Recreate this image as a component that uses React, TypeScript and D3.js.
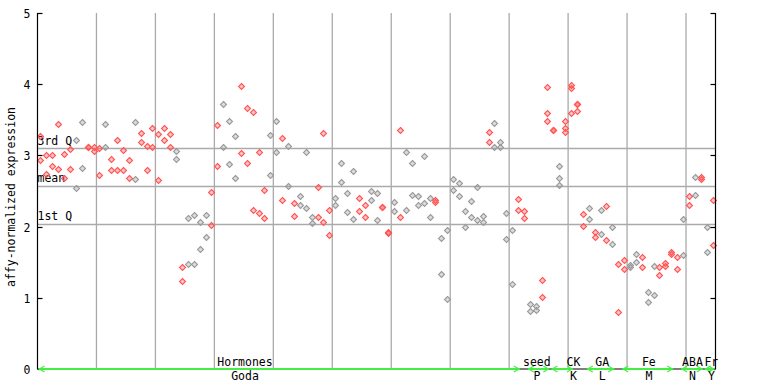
import React, { useEffect, useRef } from "react";
import * as d3 from "d3";

// expression per sample column (replicates)
const samples: number[][] = [
  [3.27, 2.94], [3.0, 2.74], [3.0, 2.85], [3.44, 2.81], [3.02, 2.68],
  [3.09, 2.81], [3.21, 2.54], [3.47, 2.83], [3.12, 3.12], [3.12, 3.06],
  [3.1, 2.72], [3.44, 3.12], [2.95, 2.79], [3.21, 2.79], [3.07, 2.79],
  [2.93, 2.68], [3.47, 2.67], [3.31, 3.19], [3.13, 2.79], [3.38, 3.12],
  [3.3, 2.65], [3.38, 3.21], [3.3, 3.12], [3.06, 2.95], [1.43, 1.23],
  [2.12, 1.47], [2.16, 1.47], [2.06, 1.68], [2.16, 1.86], [2.48, 2.02],
  [3.42, 2.85], [3.72, 3.12], [3.49, 2.88], [3.27, 2.68], [3.97, 3.03],
  [3.66, 2.9], [3.61, 2.24], [3.05, 2.19], [2.51, 2.12], [3.28, 2.72],
  [3.48, 3.05], [3.24, 2.37], [3.13, 2.57], [2.33, 2.15], [2.43, 2.3],
  [3.05, 2.26], [2.13, 2.05], [2.55, 2.13], [3.31, 2.06], [2.24, 1.88],
  [2.4, 2.3], [2.9, 2.62], [2.47, 2.2], [2.78, 2.1], [2.4, 2.22],
  [2.3, 2.13], [2.5, 2.37], [2.47, 2.09], [2.28, 2.28], [1.93, 1.91],
  [2.34, 2.22], [3.35, 2.13], [3.05, 2.24], [2.9, 2.45], [2.43, 2.31],
  [2.99, 2.33], [2.4, 2.13], [2.37, 2.34], [1.84, 1.33], [1.95, 0.99],
  [2.67, 2.51], [2.61, 2.43], [2.22, 1.99], [2.36, 2.13], [2.55, 2.09],
  [2.15, 2.06], [3.33, 3.19], [3.45, 3.12], [3.19, 3.12], [2.19, 1.82],
  [1.95, 1.2], [2.39, 2.23], [2.22, 2.12], [0.91, 0.81], [0.88, 0.83],
  [1.25, 1.01], [3.96, 3.59, 3.48], [3.35, 3.35], [2.85, 2.68, 2.58], [3.48, 3.38, 3.33],
  [3.99, 3.95, 3.59], [3.72, 3.72, 3.62], [2.17, 2.01], [2.26, 2.1], [1.92, 1.86],
  [2.23, 1.89], [2.29, 1.81], [1.99, 1.75], [1.47, 0.8], [1.53, 1.41],
  [1.46, 1.43], [1.61, 1.5], [1.58, 1.43], [1.08, 0.94], [1.44, 1.04],
  [1.43, 1.32], [1.49, 1.44], [1.65, 1.61], [1.58, 1.4], [2.1, 1.6],
  [2.43, 2.31], [2.69, 2.45], [2.69, 2.67], [1.99, 1.64], [2.37, 1.74],
];

// columns drawn in grey
const greyCols = [7, 8, 12, 17, 24, 26, 27, 28, 29, 32, 33, 34, 40, 41, 43, 45, 46, 47,
  51, 52, 53, 54, 57, 58, 61, 63, 64, 65, 66, 67, 69, 70, 71, 72, 73, 74, 75, 76,
  78, 79, 80, 81, 84, 85, 89, 94, 96, 98, 101, 102, 104, 105, 110, 112, 114];

const groupTop = ["Hormones", "seed", "CK", "GA", "Fe", "ABA", "Fr"];
const groupBottom = ["Goda", "P", "K", "L", "M", "N", "Y"];
const groupFrom = [1, 84, 88, 94, 100, 110, 114];
const groupTo = [82, 87, 91, 98, 108, 113, 115];
const groupLabelAt = [35.7, 85.2, 91.4, 96.3, 104.2, 111.6, 114.8];

const refLabels = ["3rd Q", "mean", "1st Q"];
const refValues = [3.1, 2.575, 2.04];
const yTicks = [0, 1, 2, 3, 4, 5];

const W = 768;
const H = 384;
const FONT = "'DejaVu Sans Mono', monospace";

export default function App() {
  const ref = useRef<SVGSVGElement>(null);

  useEffect(() => {
    const svg = d3.select(ref.current);
    svg.selectAll("*").remove();

    const left = 37.5, right = 715.5, top = 13, bottom = 369;
    const cols = samples.map((_, i) => i + 1);
    const x = d3.scaleBand<number>().domain(cols).range([left, right]).padding(0);
    const cx = (c: number) => (x(Math.round(c)) ?? 0) + x.bandwidth() / 2 + (c - Math.round(c)) * x.bandwidth();
    const y = d3.scaleLinear().domain([0, 5]).range([bottom, top]);

    svg.append("rect").attr("width", W).attr("height", H).attr("fill", "#fff");

    // vertical grid every 10 samples
    const g = svg.append("g").attr("stroke", "#aaaaaa").attr("stroke-width", 1.3);
    d3.range(10, samples.length, 10).forEach((c) => {
      const xx = (x(c + 1) ?? 0);
      g.append("line").attr("x1", xx).attr("x2", xx).attr("y1", top).attr("y2", bottom);
    });
    refValues.forEach((v) => {
      g.append("line").attr("x1", left).attr("x2", right).attr("y1", Math.round(y(v)) + 0.5).attr("y2", Math.round(y(v)) + 0.5);
    });

    // ref labels
    refLabels.forEach((t, i) => {
      svg.append("text").attr("x", left).attr("y", y(refValues[i]) - 3.5)
        .attr("font-family", FONT).attr("font-size", 11.5).attr("fill", "#000").text(t);
    });

    // points
    const pts = svg.append("g");
    samples.forEach((vals, i) => {
      const col = i + 1;
      const color = greyCols.includes(col) ? "#9a9a9a" : "#ff5555";
      vals.forEach((v) => {
        const px = Math.round(cx(col)) + 0.5;
        const py = Math.round(y(v)) + 0.5;
        pts.append("path")
          .attr("d", `M${px},${py - 3}L${px + 3},${py}L${px},${py + 3}L${px - 3},${py}Z`)
          .attr("fill", color).attr("fill-opacity", 0.35)
          .attr("stroke", color).attr("stroke-width", 1.1);
      });
    });

    // axes frame
    const ax = svg.append("g").attr("stroke", "#000").attr("stroke-width", 1.2);
    ax.append("line").attr("x1", left).attr("x2", left).attr("y1", top).attr("y2", bottom);
    ax.append("line").attr("x1", right).attr("x2", right).attr("y1", top).attr("y2", bottom);
    ax.append("line").attr("x1", left).attr("x2", right).attr("y1", bottom).attr("y2", bottom);
    yTicks.forEach((t) => {
      const yy = Math.round(y(t)) + 0.5;
      ax.append("line").attr("x1", left).attr("x2", left + 5).attr("y1", yy).attr("y2", yy);
      ax.append("line").attr("x1", right - 5).attr("x2", right).attr("y1", yy).attr("y2", yy);
      svg.append("text").attr("x", 27).attr("y", yy + 4).attr("text-anchor", "middle")
        .attr("font-family", FONT).attr("font-size", 11.5).text(t);
    });

    svg.append("text")
      .attr("transform", `translate(15,${(top + bottom) / 2 + 6}) rotate(-90)`)
      .attr("text-anchor", "middle").attr("font-family", FONT).attr("font-size", 11.5)
      .text("affy-normalized expression");

    // group bars
    const green = "#44ee44";
    const gb = svg.append("g").attr("stroke", green).attr("fill", "none").attr("stroke-width", 2);
    groupTop.forEach((name, i) => {
      const x0 = (x(groupFrom[i]) ?? 0) + 1;
      const x1 = (x(groupTo[i]) ?? 0) + x.bandwidth() - 1;
      gb.append("line").attr("x1", x0).attr("x2", x1).attr("y1", bottom).attr("y2", bottom);
      gb.append("path").attr("stroke-width", 1.2).attr("d", `M${x0 + 6},${bottom - 3}L${x0 + 1},${bottom}L${x0 + 6},${bottom + 3}`);
      gb.append("path").attr("stroke-width", 1.2).attr("d", `M${x1 - 6},${bottom - 3}L${x1 - 1},${bottom}L${x1 - 6},${bottom + 3}`);
      const lx = cx(groupLabelAt[i]);
      svg.append("text").attr("x", lx).attr("y", bottom - 3).attr("text-anchor", "middle")
        .attr("font-family", FONT).attr("font-size", 11.5).text(name);
      svg.append("text").attr("x", lx).attr("y", bottom + 11).attr("text-anchor", "middle")
        .attr("font-family", FONT).attr("font-size", 11.5).text(groupBottom[i]);
    });
  }, []);

  return <svg ref={ref} width={W} height={H} style={{ position: "absolute", left: 0, top: 0 }} />;
}
